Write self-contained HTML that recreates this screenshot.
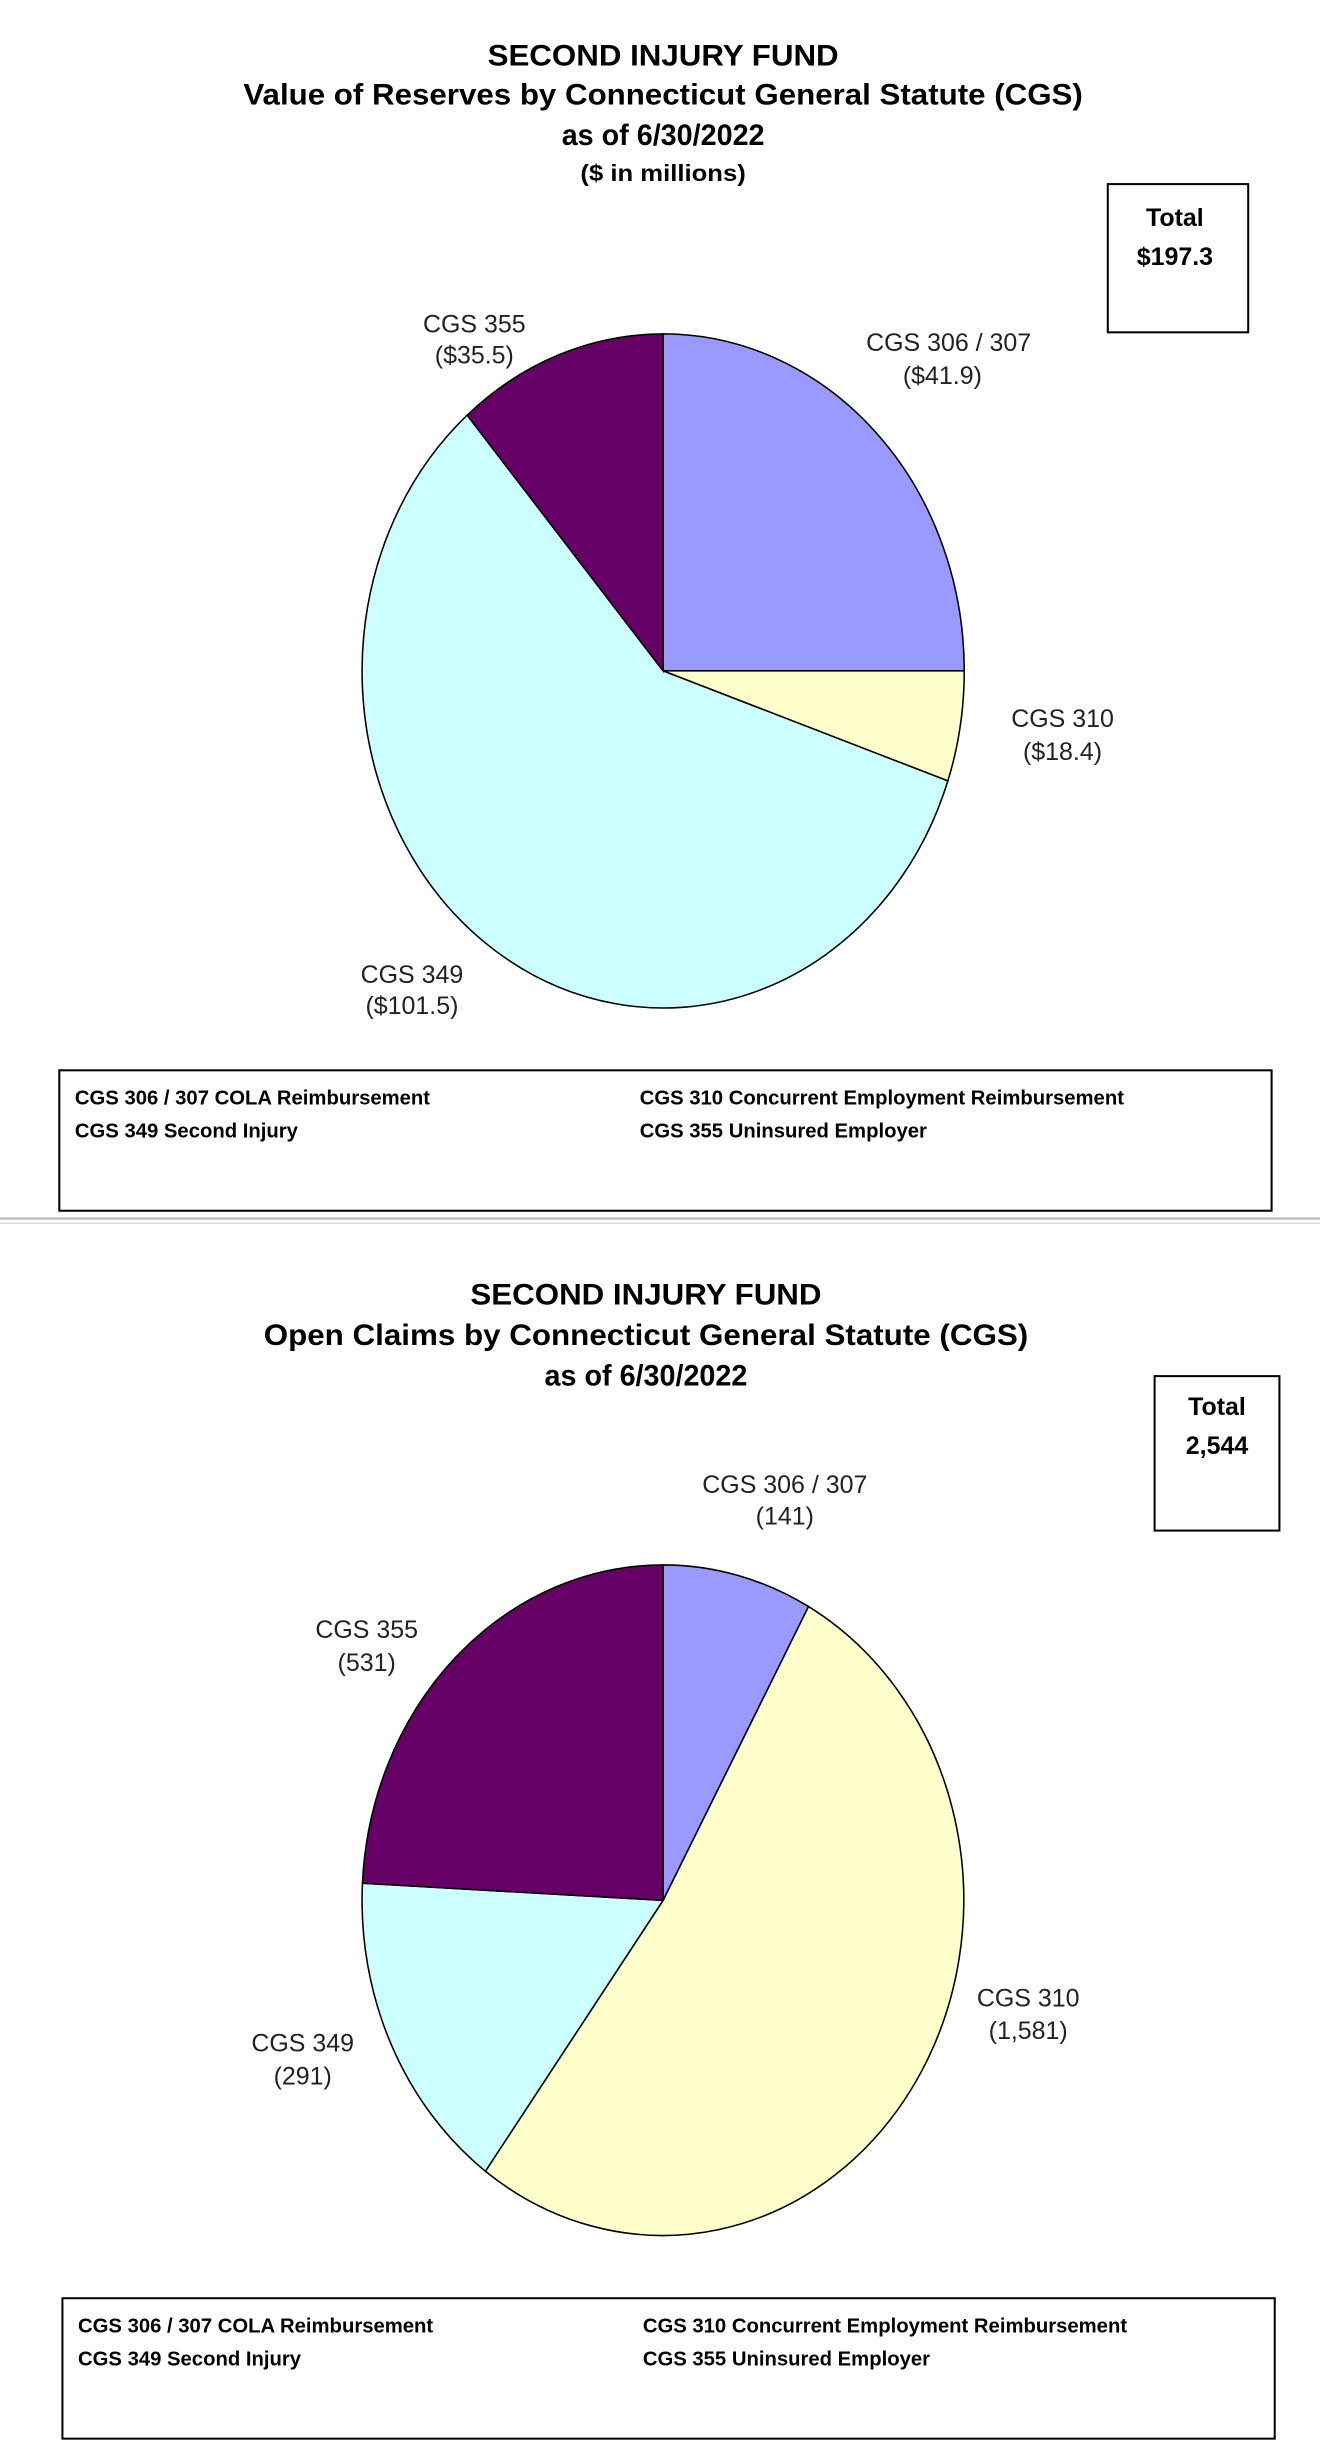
<!DOCTYPE html>
<html><head><meta charset="utf-8"><style>
html,body{margin:0;padding:0;background:#fff;}
svg{display:block;}
.t{font-family:"Liberation Sans Narrow","Liberation Sans",sans-serif;font-weight:bold;text-anchor:middle;fill:#000;}
.l{font-family:"Liberation Sans Narrow","Liberation Sans",sans-serif;font-size:16px;text-anchor:middle;fill:#222;}
.g{font-family:"Liberation Sans Narrow","Liberation Sans",sans-serif;font-weight:bold;font-size:13px;fill:#000;}
</style></head><body>
<svg width="1320" height="2448" viewBox="0 0 846 1569" xmlns="http://www.w3.org/2000/svg">
<rect width="846" height="1569" fill="#fff"/>
<!-- Chart 1 -->
<text class="t" x="425" y="42" font-size="19" textLength="225" lengthAdjust="spacingAndGlyphs">SECOND INJURY FUND</text>
<text class="t" x="425" y="67" font-size="19" textLength="538" lengthAdjust="spacingAndGlyphs">Value of Reserves by Connecticut General Statute (CGS)</text>
<text class="t" x="425" y="93" font-size="19" textLength="130" lengthAdjust="spacingAndGlyphs">as of 6/30/2022</text>
<text class="t" x="425" y="116" font-size="15" textLength="106" lengthAdjust="spacingAndGlyphs">($ in millions)</text>
<rect x="710" y="118" width="90" height="95" fill="none" stroke="#000" stroke-width="1.3"/>
<text class="t" x="753" y="145" font-size="16">Total</text>
<text class="t" x="753" y="170" font-size="16">$197.3</text>
<g stroke="#000" stroke-width="1">
<path d="M425,430 L425,214 A193,216 0 0 1 618,430 Z" fill="#9999FF"/>
<path d="M425,430 L618,430 A193,216 0 0 1 607.5,500.5 Z" fill="#FFFFCC"/>
<path d="M425,430 L607.5,500.5 A193,216 0 1 1 299.4,266.1 Z" fill="#CCFFFF"/>
<path d="M425,430 L299.4,266.1 A193,216 0 0 1 425,214 Z" fill="#660066"/>
</g>
<text class="l" x="304" y="213">CGS 355</text><text class="l" x="304" y="233">($35.5)</text>
<text class="l" x="608" y="225">CGS 306 / 307</text><text class="l" x="604" y="246">($41.9)</text>
<text class="l" x="681" y="466">CGS 310</text><text class="l" x="681" y="487">($18.4)</text>
<text class="l" x="264" y="630">CGS 349</text><text class="l" x="264" y="650">($101.5)</text>
<rect x="38" y="686" width="777" height="90" fill="none" stroke="#000" stroke-width="1.3"/>
<text class="g" x="48" y="708">CGS 306 / 307 COLA Reimbursement</text>
<text class="g" x="48" y="729">CGS 349 Second Injury</text>
<text class="g" x="410" y="708">CGS 310 Concurrent  Employment Reimbursement</text>
<text class="g" x="410" y="729">CGS 355 Uninsured  Employer</text>
<line x1="0" y1="781" x2="846" y2="781" stroke="#bbb" stroke-width="1.5"/>
<line x1="0" y1="784" x2="846" y2="784" stroke="#ddd" stroke-width="1"/>
<!-- Chart 2 -->
<text class="t" x="414" y="836" font-size="19" textLength="225" lengthAdjust="spacingAndGlyphs">SECOND INJURY FUND</text>
<text class="t" x="414" y="862" font-size="19" textLength="490" lengthAdjust="spacingAndGlyphs">Open Claims by Connecticut General Statute (CGS)</text>
<text class="t" x="414" y="888" font-size="19" textLength="130" lengthAdjust="spacingAndGlyphs">as of 6/30/2022</text>
<rect x="740" y="882" width="80" height="99" fill="none" stroke="#000" stroke-width="1.3"/>
<text class="t" x="780" y="907" font-size="16">Total</text>
<text class="t" x="780" y="932" font-size="16">2,544</text>
<g stroke="#000" stroke-width="1">
<path d="M425,1218 L425,1003 A193,215 0 0 1 518.2,1029.7 Z" fill="#9999FF"/>
<path d="M425,1218 L518.2,1029.7 A193,215 0 1 1 311.1,1391.6 Z" fill="#FFFFCC"/>
<path d="M425,1218 L311.1,1391.6 A193,215 0 0 1 232.3,1207 Z" fill="#CCFFFF"/>
<path d="M425,1218 L232.3,1207 A193,215 0 0 1 425,1003 Z" fill="#660066"/>
</g>
<text class="l" x="503" y="957">CGS 306 / 307</text><text class="l" x="503" y="977">(141)</text>
<text class="l" x="235" y="1050">CGS 355</text><text class="l" x="235" y="1071">(531)</text>
<text class="l" x="659" y="1286">CGS 310</text><text class="l" x="659" y="1307">(1,581)</text>
<text class="l" x="194" y="1315">CGS 349</text><text class="l" x="194" y="1336">(291)</text>
<rect x="40" y="1473" width="777" height="90" fill="none" stroke="#000" stroke-width="1.3"/>
<text class="g" x="50" y="1495">CGS 306 / 307 COLA Reimbursement</text>
<text class="g" x="50" y="1516">CGS 349 Second Injury</text>
<text class="g" x="412" y="1495">CGS 310 Concurrent  Employment Reimbursement</text>
<text class="g" x="412" y="1516">CGS 355 Uninsured  Employer</text>
</svg>
</body></html>
